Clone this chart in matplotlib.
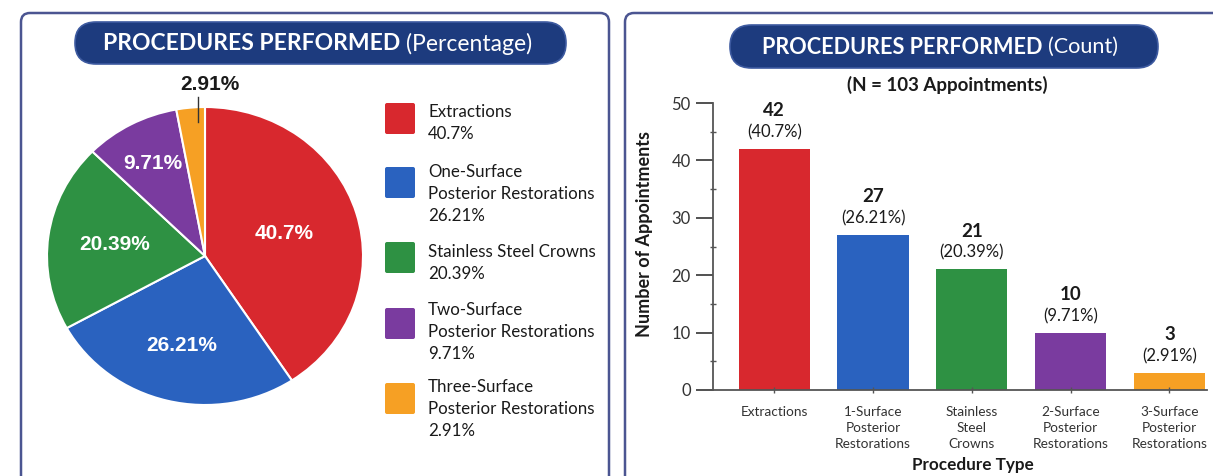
import numpy as np
import matplotlib
matplotlib.use("Agg")
import matplotlib.pyplot as plt
from matplotlib.patches import FancyBboxPatch

plt.rcParams['font.family'] = ['Lato', 'DejaVu Sans']

# datos
legend_names = ['Extractions', 'One-Surface\nPosterior Restorations', 'Stainless Steel Crowns',
                'Two-Surface\nPosterior Restorations', 'Three-Surface\nPosterior Restorations']
bar_names = ['Extractions', '1-Surface\nPosterior\nRestorations', 'Stainless\nSteel\nCrowns',
             '2-Surface\nPosterior\nRestorations', '3-Surface\nPosterior\nRestorations']
counts = [42, 27, 21, 10, 3]
pct = [40.7, 26.21, 20.39, 9.71, 2.91]
pct_labels = ['40.7%', '26.21%', '20.39%', '9.71%', '2.91%']
colores = ['#d8282e', '#2a62bf', '#2e9143', '#7a3b9f', '#f6a024']
navy = '#1d3b7e'

W, H = 1213, 476
fig = plt.figure(figsize=(W / 100, H / 100), dpi=100)

def px_axes(x0, y0, x1, y1, **kw):
    # rect en pixeles (origen arriba-izquierda)
    return fig.add_axes([x0 / W, 1 - y1 / H, (x1 - x0) / W, (y1 - y0) / H], **kw)

# fondo: paneles y titulos
bg = px_axes(0, 0, W, H)
bg.set_xlim(0, W)
bg.set_ylim(H, 0)
bg.axis('off')
for x0, x1 in [(21, 609), (625, 1240)]:
    bg.add_patch(FancyBboxPatch((x0, 13), x1 - x0, 520, boxstyle='round,pad=0,rounding_size=9',
                                fc='white', ec='#4b5591', lw=1.8))
for x0, x1, y0, y1 in [(75, 566, 22, 64), (730, 1158, 25, 68)]:
    r = (y1 - y0) / 2
    bg.add_patch(FancyBboxPatch((x0, y0), x1 - x0, y1 - y0, boxstyle=f'round,pad=0,rounding_size={r}',
                                fc=navy, ec='#3d5aa0', lw=1.2))
bg.text(400, 44, 'PROCEDURES PERFORMED', color='white', fontsize=16.5, fontweight='bold',
        ha='right', va='center')
bg.text(406, 44, '(Percentage)', color='white', fontsize=16.5, ha='left', va='center')
bg.text(1042, 47, 'PROCEDURES PERFORMED', color='white', fontsize=15.6, fontweight='bold',
        ha='right', va='center')
bg.text(1048, 47, '(Count)', color='white', fontsize=15.6, ha='left', va='center')
bg.text(947, 85, '(N = 103 Appointments)', color='#1a1a1a', fontsize=13.5, fontweight='bold',
        ha='center', va='center')

# leyenda del pastel
sq_top = [103, 167, 242, 308, 383]
first_line = [112, 172, 252, 310, 387]
for i, name in enumerate(legend_names):
    bg.add_patch(FancyBboxPatch((385, sq_top[i]), 30, 31, boxstyle='round,pad=0,rounding_size=2',
                                fc=colores[i], ec='none'))
    lines = name.split('\n') + [pct_labels[i]]
    for k, ln in enumerate(lines):
        bg.text(428, first_line[i] + k * 22, ln, fontsize=12.2, color='#1a1a1a',
                ha='left', va='center')

# pastel
ax1 = px_axes(47, 107, 363, 405)
wedges, _ = ax1.pie(pct, colors=colores, startangle=90, counterclock=False,
                    wedgeprops=dict(edgecolor='white', linewidth=1.5))
ax1.set_aspect('auto')
ax1.set_xlim(-1, 1)
ax1.set_ylim(-1, 1)
radios = [0.52, 0.62, 0.58, 0.7]
for i, w in enumerate(wedges[:4]):
    ang = np.deg2rad((w.theta1 + w.theta2) / 2)
    ax1.text(radios[i] * np.cos(ang), radios[i] * np.sin(ang), pct_labels[i], color='white',
             fontsize=15, fontweight='bold', family='Liberation Sans', ha='center', va='center')
ax1.plot([-0.044, -0.044], [0.9, 1.07], color='#333333', lw=1, clip_on=False)
ax1.text(0.03, 1.15, pct_labels[4], ha='center', va='center', fontsize=15, fontweight='bold',
         family='Liberation Sans', color='#1a1a1a')

# barras
ax2 = px_axes(713, 103, 1207, 390)
x = np.arange(len(counts))
ax2.bar(x, counts, width=0.72, color=colores)
ax2.set_xlim(-0.62, 4.38)
ax2.set_ylim(0, 50)
ax2.set_yticks([0, 10, 20, 30, 40, 50])
ax2.set_yticks(np.arange(5, 50, 10), minor=True)
ax2.set_xticks(x)
ax2.set_xticklabels(bar_names, fontsize=9.8, color='#333333', linespacing=1.38)
ax2.tick_params(axis='y', which='major', length=12, width=1.2, labelsize=12,
                colors='#333333', pad=4)
ax2.tick_params(axis='y', which='minor', length=4, width=1, direction='inout', colors='#555555')
ax2.tick_params(axis='x', length=5, width=1, direction='inout', pad=9, colors='#555555')
for lbl in ax2.get_xticklabels():
    lbl.set_color('#333333')
for s in ['top', 'right']:
    ax2.spines[s].set_visible(False)
for s in ['left', 'bottom']:
    ax2.spines[s].set_color('#555555')
    ax2.spines[s].set_linewidth(1.3)
ax2.set_ylabel('Number of Appointments', fontsize=13, fontweight='bold', color='#1a1a1a')
ax2.yaxis.set_label_coords(-0.121, 0.544)
ax2.set_xlabel('Procedure Type', fontsize=12.3, fontweight='bold', color='#1a1a1a')
ax2.xaxis.set_label_coords(0.526, -0.232)
for i, c in enumerate(counts):
    ax2.annotate(f'({pct_labels[i]})', (x[i], c), xytext=(0, 12), textcoords='offset points',
                 ha='center', va='center', fontsize=12, color='#1a1a1a')
    ax2.annotate(str(c), (x[i], c), xytext=(0, 27.5), textcoords='offset points',
                 ha='center', va='center', fontsize=13.5, fontweight='bold', color='#1a1a1a')

fig.savefig('out.png', dpi=100)
